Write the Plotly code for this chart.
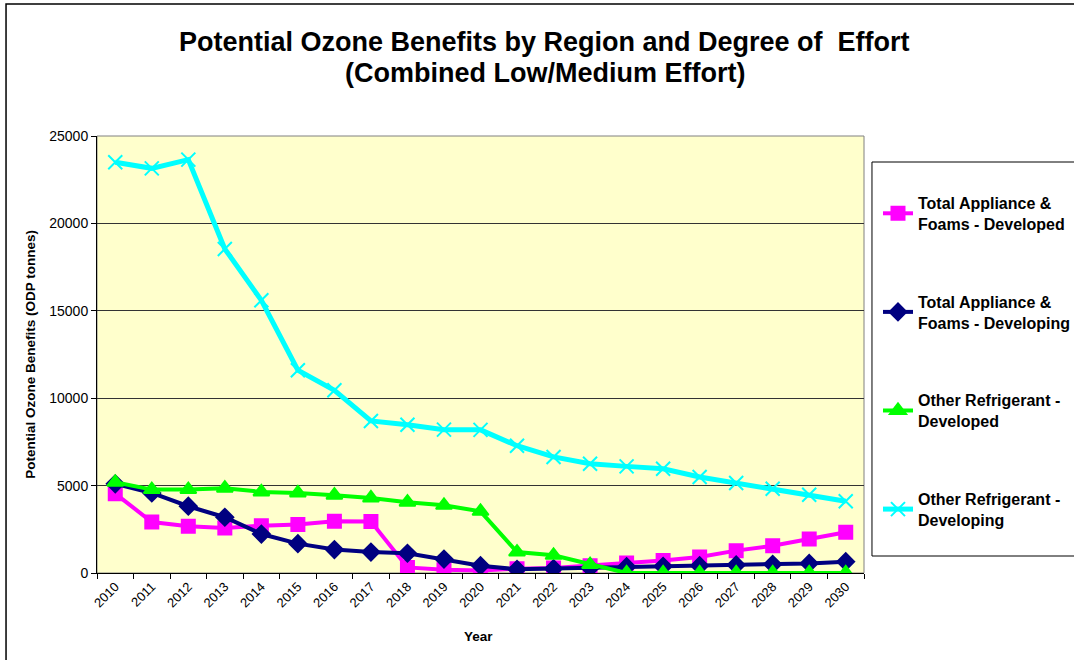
import plotly.graph_objects as go

# Years on the category axis
years = [str(y) for y in range(2010, 2031)]

# (ODP tonnes)
appliance_developed = [4540, 2920, 2670, 2580, 2710, 2770, 2960, 2940, 320, 190, 150,
                       250, 290, 420, 570, 710, 920, 1280, 1560, 1950, 2330]
appliance_developing = [5100, 4580, 3820, 3190, 2230, 1680, 1340, 1200, 1130, 800, 420,
                        210, 250, 290, 360, 380, 420, 460, 500, 550, 650]
refrig_developed = [5190, 4770, 4770, 4850, 4640, 4580, 4450, 4290, 4050, 3870, 3530,
                    1200, 1010, 480, 0, 0, 0, 0, 0, 0, 0]
refrig_developing = [23500, 23150, 23650, 18540, 15600, 11600, 10450, 8700, 8480, 8200, 8190,
                     7280, 6640, 6250, 6100, 5960, 5490, 5150, 4820, 4480, 4100]

series_names = [
    "Total Appliance &<br>Foams - Developed",
    "Total Appliance &<br>Foams - Developing",
    "Other Refrigerant -<br>Developed",
    "Other Refrigerant -<br>Developing",
]

title_lines = ["Potential Ozone Benefits by Region and Degree of  Effort",
               "(Combined Low/Medium Effort)"]

FONT = "Liberation Sans, Arial, sans-serif"

fig = go.Figure()

styles = [
    dict(color="#FF00FF", symbol="square", size=13, width=4),
    dict(color="#000080", symbol="diamond", size=13, width=4),
    dict(color="#00FF00", symbol="triangle-up", size=14, width=4),
    dict(color="#00FFFF", symbol="x-thin-open", size=14, width=5),
]
for i, (vals, name) in enumerate(zip(
        [appliance_developed, appliance_developing, refrig_developed, refrig_developing],
        series_names)):
    st = styles[i]
    fig.add_trace(go.Scatter(
        x=years, y=vals, name=name, mode="lines+markers",
        line=dict(color=st["color"], width=st["width"]),
        marker=dict(symbol=st["symbol"], size=st["size"], color=st["color"],
                    line=dict(color=st["color"], width=2)),
        legendgroup=str(i),
    ))

fig.update_layout(
    width=1074, height=660,
    margin=dict(l=97, r=210, t=136, b=87),
    paper_bgcolor="white",
    plot_bgcolor="#FFFFCC",
    font=dict(family=FONT, color="black"),
    showlegend=True,
    legend=dict(
        xref="container", yref="paper",
        x=0.8175, xanchor="left", y=0.8856, yanchor="top",
        font=dict(size=16, family=FONT, weight="bold"),
        bgcolor="rgba(0,0,0,0)", borderwidth=0,
        tracegroupgap=54, traceorder="grouped",
        itemwidth=30,
    ),
    xaxis=dict(
        type="category", range=[-0.5, 20.5],
        tickangle=-45, tickfont=dict(size=13),
        ticks="outside", ticklen=5, tickcolor="black", tickson="boundaries",
        showline=True, linecolor="black", linewidth=1,
        showgrid=False, zeroline=False,
    ),
    yaxis=dict(
        range=[0, 25000], dtick=5000, tickformat="d", tickfont=dict(size=14),
        ticks="outside", ticklen=5, tickcolor="black",
        showline=True, linecolor="black", linewidth=1,
        showgrid=True, gridcolor="#333333", gridwidth=1, zeroline=False,
    ),
    annotations=[
        dict(text=title_lines[0], xref="paper", yref="paper", x=0.584, y=1.215,
             yanchor="middle", showarrow=False,
             font=dict(size=27, family=FONT, weight="bold")),
        dict(text=title_lines[1], xref="paper", yref="paper", x=0.584, y=1.144,
             yanchor="middle", showarrow=False,
             font=dict(size=27, family=FONT, weight="bold")),
        dict(text="Potential Ozone Benefits (ODP tonnes)", textangle=-90,
             xref="paper", yref="paper", x=-0.087, xanchor="center",
             y=0.5, yanchor="middle",
             showarrow=False, font=dict(size=13.5, family=FONT, weight="bold")),
        dict(text="Year", xref="paper", yref="paper", x=0.497, xanchor="center",
             y=-0.146, yanchor="middle",
             showarrow=False, font=dict(size=13.5, family=FONT, weight="bold")),
    ],
    shapes=[
        # plot area frame (top/right grey)
        dict(type="rect", xref="paper", yref="paper", x0=0, x1=1, y0=0, y1=1,
             line=dict(color="#808080", width=1), layer="below"),
        # legend box
        dict(type="rect", xref="paper", yref="paper", x0=1.0104, x1=1.35,
             y0=0.0389, y1=0.9405, line=dict(color="black", width=1)),
        # chart border
        dict(type="rect", xref="paper", yref="paper", x0=-0.1186, x1=1.35,
             y0=-0.25, y1=1.302, line=dict(color="black", width=1.5)),
    ],
)

# drop the default 8px page margin so the figure sits at the window corner
fig.write_html("out.html", config={"displayModeBar": False},
               post_script="document.body.style.margin='0';")
